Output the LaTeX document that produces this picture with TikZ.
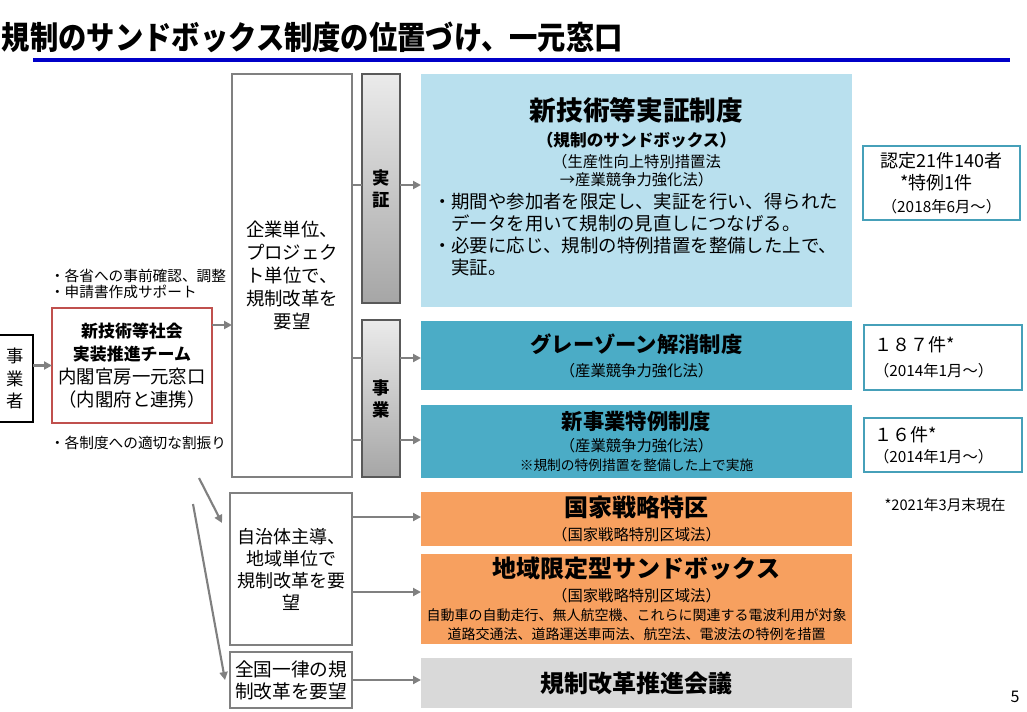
\documentclass[tikz,border=0pt]{standalone}
\usepackage{fontspec}
\setmainfont{Noto Sans CJK JP}
\usepackage{graphicx}
\usepackage{tikz}
\usetikzlibrary{positioning,calc,arrows.meta}
\usepackage{xcolor}
\definecolor{rulblue}{RGB}{0,0,200}
\definecolor{lineg}{RGB}{128,128,128}
\definecolor{teamred}{RGB}{192,80,77}
\definecolor{demoblue}{RGB}{185,224,238}
\definecolor{sbteal}{RGB}{75,172,198}
\definecolor{tagteal}{RGB}{70,160,185}
\definecolor{sborange}{RGB}{247,160,95}
\definecolor{sbgray}{RGB}{217,217,217}

\begin{document}
\begin{tikzpicture}[x=0.75pt,y=-0.75pt,
  every node/.style={inner sep=0pt,outer sep=0pt},
  sz/.style 2 args={minimum width=#1*0.75pt,minimum height=#2*0.75pt},
  wbox/.style={rectangle,draw=lineg,line width=1.5pt,fill=white,align=center},
  bar/.style={rectangle,draw=black!65,line width=1pt,top color=black!8,bottom color=black!35,align=center,font=\fontsize{13}{16.5}\selectfont\bfseries},
  band/.style={rectangle,align=center},
  tag/.style={rectangle,draw=tagteal,line width=1.5pt,fill=white},
  link/.style={draw=lineg,line width=1.6pt,-{Triangle[length=6pt,width=6pt]}},
  plain/.style={draw=lineg,line width=1.6pt}]
\useasboundingbox (0,0) rectangle (1027,711);

\node[anchor=west,font=\fontsize{24}{26}\selectfont\bfseries] (title) at (2,37) {\scalebox{0.885}[1]{規制のサンドボックス制度の位置づけ、一元窓口}};
\draw[rulblue,line width=3pt] (33,60) -- (1010,60);

\node[rectangle,draw=black,line width=1.6pt,fill=white,sz={35}{87},align=center,font=\fontsize{13}{17}\selectfont] (jigyosha) at (15.5,378.5) {事\\業\\者};
\node[rectangle,draw=teamred,line width=1.8pt,fill=white,sz={160}{115},align=center,font=\fontsize{13.8}{17.25}\selectfont] (team) at (132,365.5)
  {{\fontsize{12.7}{15}\selectfont\bfseries 新技術等社会}\\{\fontsize{12.7}{15}\selectfont\bfseries 実装推進チーム}\\内閣官房一元窓口\\（内閣府と連携）};
\node[anchor=west,align=left,font=\fontsize{11}{12}\selectfont] (prep) at (50,284) {・各省への事前確認、調整\\・申請書作成サポート};
\node[anchor=west,font=\fontsize{11}{12}\selectfont] (assign) at (50,443) {・各制度への適切な割振り};

\node[wbox,sz={120}{403},font=\fontsize{13.8}{17.25}\selectfont] (kigyo) at (292,275.5) {企業単位、\\プロジェク\\ト単位で、\\規制改革を\\要望};
\node[wbox,sz={122}{152},font=\fontsize{13.5}{16.5}\selectfont] (jichitai) at (291,569) {自治体主導、\\地域単位で\\規制改革を要\\望};
\node[wbox,sz={122}{56},font=\fontsize{14}{16.5}\selectfont] (all) at (291,680) {全国一律の規\\制改革を要望};

\node[bar,sz={38}{229}] (jsbar) at (381,188.5) {実\\証};
\node[bar,sz={38}{157}] (jgbar) at (381,398.5) {事\\業};

\node[band,fill=demoblue,sz={431}{233}] (demo) at (636.5,190.5) {};
\node[font=\fontsize{20}{24}\selectfont\bfseries] (demotitle) at (636.5,110) {新技術等実証制度};
\node[font=\fontsize{12.5}{15}\selectfont\bfseries] (demosub) at (636.5,140) {（規制のサンドボックス）};
\node[align=center,font=\fontsize{11.5}{13.5}\selectfont] (demolaw) at (636.5,171) {（生産性向上特別措置法\\→産業競争力強化法）};
\node[anchor=west,align=left,font=\fontsize{13.8}{16.5}\selectfont] (demotext) at (433,235)
  {・期間や参加者を限定し、実証を行い、得られた\\\hphantom{・}データを用いて規制の見直しにつなげる。\\・必要に応じ、規制の特例措置を整備した上で、\\\hphantom{・}実証。};

\node[band,fill=sbteal,sz={431}{69},font=\fontsize{11.5}{18}\selectfont] (grey) at (636.5,355.5)
  {{\fontsize{16}{18}\selectfont\bfseries グレーゾーン解消制度}\\（産業競争力強化法）};
\node[band,fill=sbteal,sz={431}{73},font=\fontsize{11.5}{14.25}\selectfont] (special) at (636.5,441.5)
  {{\fontsize{16}{18}\selectfont\bfseries 新事業特例制度}\\[2.25pt]（産業競争力強化法）\\{\fontsize{10.3}{12}\selectfont ※規制の特例措置を整備した上で実施}};
\node[band,fill=sborange,sz={431}{54},font=\fontsize{11.5}{18}\selectfont] (nsz) at (636.5,519)
  {{\fontsize{18}{20}\selectfont\bfseries 国家戦略特区}\\（国家戦略特別区域法）};
\node[band,fill=sborange,sz={431}{90},font=\fontsize{10.5}{14.25}\selectfont] (localsb) at (636.5,599)
  {{\fontsize{18}{20}\selectfont\bfseries 地域限定型サンドボックス}\\[3.75pt]{\fontsize{11.5}{14}\selectfont （国家戦略特別区域法）}\\自動車の自動走行、無人航空機、これらに関連する電波利用が対象\\道路交通法、道路運送車両法、航空法、電波法の特例を措置};
\node[band,fill=sbgray,sz={431}{50},font=\fontsize{18}{20}\selectfont\bfseries] (council) at (636.5,683) {規制改革推進会議};

\node[tag,sz={157}{74},align=center,font=\fontsize{13.5}{16.9}\selectfont] (tag1) at (941.5,183)
  {認定21件140者\\*特例1件\hphantom{0}\\{\fontsize{11.5}{13}\selectfont （2018年6月～）}};
\node[tag,sz={158}{65},align=left,text width=103.5pt,font=\fontsize{13.5}{18.75}\selectfont] (tag2) at (943,357.5)
  {１８７件*\\{\fontsize{11.5}{13}\selectfont （2014年1月～）}};
\node[tag,sz={158}{54},align=left,text width=103.5pt,font=\fontsize{13.5}{15.75}\selectfont] (tag3) at (943,445)
  {１６件*\\{\fontsize{11.5}{13}\selectfont （2014年1月～）}};
\node[font=\fontsize{11}{13}\selectfont] (asof) at (945,505) {*2021年3月末現在};
\node[font=\fontsize{12}{14}\selectfont] (pageno) at (1015,697) {5};

\draw[link] (jigyosha.east |- team) -- (team.west);
\draw[link] (team.east |- 0,325) -- (kigyo.west |- 0,325);
\foreach \yy/\barname/\tgt in {185/jsbar/demo,358/jgbar/grey,440/jgbar/special} {
  \draw[plain] (kigyo.east |- 0,\yy) -- (\barname.west |- 0,\yy);
  \draw[link] (\barname.east |- 0,\yy) -- (\tgt.west |- 0,\yy);
}
\foreach \yy/\tgt in {517/nsz,592/localsb}
  \draw[link] (jichitai.east |- 0,\yy) -- (\tgt.west |- 0,\yy);
\draw[link] (all.east) -- (council.west |- all.east);
\coordinate (from1) at (199,478);
\coordinate (from2) at (193,504);
\draw[link] (from1) -- ($(jichitai.north west)+(-8,30)$);
\draw[link] (from2) -- ($(all.west)+(-5,0)$);
\end{tikzpicture}
\end{document}
